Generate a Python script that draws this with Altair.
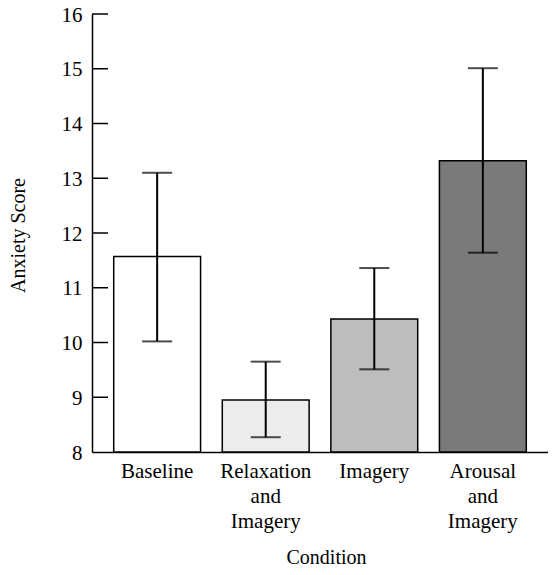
import altair as alt
import pandas as pd

conditions = ["Baseline", "Relaxation and Imagery", "Imagery", "Arousal and Imagery"]
means = [11.57, 8.95, 10.43, 13.32]
lower = [10.02, 8.27, 9.51, 11.64]
upper = [13.10, 9.65, 11.36, 15.01]
fills = ["#ffffff", "#ececec", "#bdbdbd", "#7a7a7a"]
y_ticks = [9, 10, 11, 12, 13, 14, 15, 16]

df = pd.DataFrame({"cond": conditions, "mean": means, "lo": lower, "hi": upper})
ticks_df = pd.DataFrame({"t": y_ticks})

FONT = "Liberation Serif"

x_enc = alt.X(
    "cond:N",
    sort=conditions,
    scale=alt.Scale(paddingInner=0.2, paddingOuter=0.2),
    axis=alt.Axis(
        title="Condition",
        ticks=False,
        domainColor="black",
        domainWidth=1.5,
        labelAngle=0,
        labelFont=FONT,
        labelFontSize=21,
        labelColor="black",
        labelPadding=8,
        labelLineHeight=25,
        labelExpr="split(replace(datum.label, ' and ', '|and|'), '|')",
        titleFont=FONT,
        titleFontSize=20,
        titleFontWeight="normal",
        titleColor="black",
        titleX=234,
        titleY=111,
        titleBaseline="alphabetic",
        titleAnchor="middle",
        titleAlign="center",
    ),
)

y_scale = alt.Scale(domain=[8, 16], zero=False, nice=False)
y_axis = alt.Axis(
    title="Anxiety Score",
    values=[8, 9, 10, 11, 12, 13, 14, 15, 16],
    ticks=False,
    tickSize=0,
    grid=False,
    domainColor="black",
    domainWidth=1.5,
    labelFont=FONT,
    labelFontSize=21,
    labelColor="black",
    labelPadding=10,
    labelOffset=1,
    titleFont=FONT,
    titleFontSize=20,
    titleFontWeight="normal",
    titleColor="black",
    titleX=-68,
    titleY=221,
    titleAngle=-90,
    titleBaseline="alphabetic",
    titleAlign="center",
)

bars = alt.Chart(df).mark_bar(stroke="black", strokeWidth=1.5).encode(
    x=x_enc,
    y=alt.Y("mean:Q", scale=y_scale, axis=y_axis),
    y2=alt.datum(8),
    fill=alt.Fill("cond:N", scale=alt.Scale(domain=conditions, range=fills), legend=None),
)

whisk = alt.Chart(df).mark_rule(color="black", strokeWidth=2).encode(
    x=alt.X("cond:N", sort=conditions),
    y=alt.Y("lo:Q", scale=y_scale),
    y2="hi:Q",
)

cap_hi = alt.Chart(df).mark_tick(color="black", thickness=2, size=30).encode(
    x=alt.X("cond:N", sort=conditions),
    y=alt.Y("hi:Q", scale=y_scale),
)
cap_lo = alt.Chart(df).mark_tick(color="black", thickness=2, size=30).encode(
    x=alt.X("cond:N", sort=conditions),
    y=alt.Y("lo:Q", scale=y_scale),
)

inner_ticks = alt.Chart(ticks_df).mark_rule(color="black", strokeWidth=1.5).encode(
    y=alt.Y("t:Q", scale=y_scale),
    x=alt.value(0),
    x2=alt.value(16),
)

chart = (
    alt.layer(bars, whisk, cap_hi, cap_lo, inner_ticks)
    .properties(
        width=456,
        height=438,
        autosize=alt.AutoSizeParams(type="none"),
        padding={"left": 84, "top": 6, "right": 0, "bottom": 116},
        background="white",
    )
    .configure_view(stroke=None)
)

chart.save("out.html", embed_options={"renderer": "svg", "actions": False})
